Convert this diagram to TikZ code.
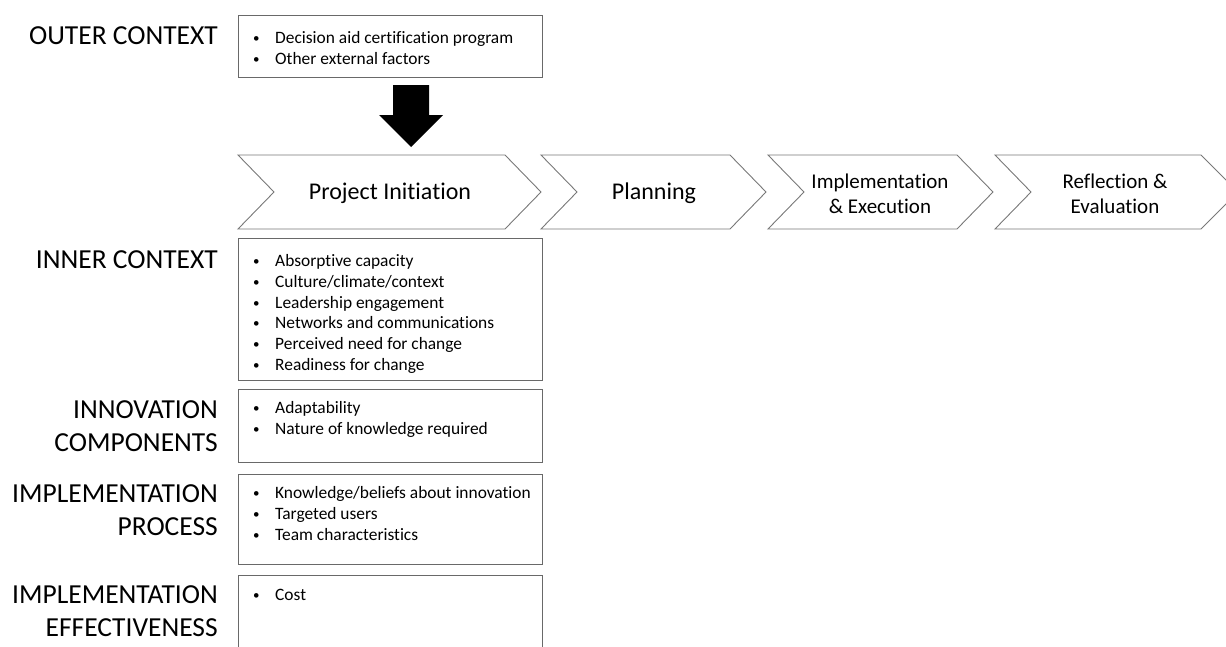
\documentclass[tikz,border=0pt]{standalone}
\usepackage{fontspec}
\setmainfont[Ligatures=NoCommon]{Carlito}
\begin{document}
\begin{tikzpicture}[x=1pt,y=-1pt,
  boxline/.style={draw={rgb,255:red,105;green,105;blue,105}, line width=1.3pt},
  chevline/.style={draw={rgb,255:red,120;green,120;blue,120}, line width=0.9pt},
  framebox/.style={boxline, rectangle, anchor=north west, inner sep=0pt, minimum width=304pt},
  listtext/.style={anchor=north west, inner sep=0pt, font=\fontsize{17.4}{20.7}\selectfont},
  sidelabel/.style={anchor=east, align=right, inner sep=0pt, font=\fontsize{27.5}{32.5}\selectfont},
  chevtext/.style={align=center, inner sep=0pt, font=\fontsize{24}{25}\selectfont},
  chevtextsm/.style={align=center, inner sep=0pt, font=\fontsize{21}{25}\selectfont}
]
\newcommand{\bl}[1]{\makebox[23pt][l]{\hspace{1pt}\raisebox{0.8pt}{\fontsize{13}{13}\selectfont •}}#1}
\useasboundingbox (0,0) rectangle (1226,646);
\begin{scope}
\clip (0,0) rectangle (1226,646);

% boxes
\node[framebox, minimum height=62pt] (outerbox) at (238,15) {};
\node[framebox, minimum height=142pt] (innerbox) at (238,238) {};
\node[framebox, minimum height=73pt] (innovbox) at (238,389) {};
\node[framebox, minimum height=90pt] (procbox) at (238,474) {};
\node[framebox, minimum height=100pt] (effbox) at (238,575) {};

% lists
\node[listtext] (outerlist) at (252,29) {\begin{tabular}{@{}l@{}}\bl{Decision aid certification program}\\ \bl{Other external factors}\end{tabular}};
\node[listtext] (innerlist) at (252,252) {\begin{tabular}{@{}l@{}}\bl{Absorptive capacity}\\ \bl{Culture/climate/context}\\ \bl{Leadership engagement}\\ \bl{Networks and communications}\\ \bl{Perceived need for change}\\ \bl{Readiness for change}\end{tabular}};
\node[listtext] (innovlist) at (252,399) {\begin{tabular}{@{}l@{}}\bl{Adaptability}\\ \bl{Nature of knowledge required}\end{tabular}};
\node[listtext] (proclist) at (252,484) {\begin{tabular}{@{}l@{}}\bl{Knowledge/beliefs about innovation}\\ \bl{Targeted users}\\ \bl{Team characteristics}\end{tabular}};
\node[listtext] (efflist) at (252,586) {\begin{tabular}{@{}l@{}}\bl{Cost}\end{tabular}};

% side labels
\node[sidelabel] (lblouter) at (218,36) {OUTER CONTEXT};
\node[sidelabel] (lblinner) at (218,260) {INNER CONTEXT};
\node[sidelabel] (lblinnov) at (218,426) {INNOVATION\\COMPONENTS};
\node[sidelabel] (lblproc) at (218,510) {IMPLEMENTATION\\PROCESS};
\node[sidelabel] (lbleff) at (218,611) {IMPLEMENTATION\\EFFECTIVENESS};

% chevrons
\draw[chevline] (238,155) -- (505,155) -- (541,192) -- (505,229) -- (238,229) -- (274,192) -- cycle;
\draw[chevline] (541,155) -- (730,155) -- (766,192) -- (730,229) -- (541,229) -- (577,192) -- cycle;
\draw[chevline] (768,155) -- (957,155) -- (993,192) -- (957,229) -- (768,229) -- (804,192) -- cycle;
\draw[chevline] (995,155) -- (1201,155) -- (1238,192) -- (1201,229) -- (995,229) -- (1031,192) -- cycle;
\node[chevtext] (chev1) at (390,193.5) {Project Initiation};
\node[chevtext] (chev2) at (654,193.5) {Planning};
\node[chevtextsm] (chev3) at (880,193.5) {Implementation\\\& Execution};
\node[chevtextsm] (chev4) at (1115,193.5) {Reflection \&\\Evaluation};

% block arrow
\fill[black] (393,85) -- (429,85) -- (429,115) -- (443,115) -- (411,147) -- (379,115) -- (393,115) -- cycle;
\end{scope}
\end{tikzpicture}
\end{document}
